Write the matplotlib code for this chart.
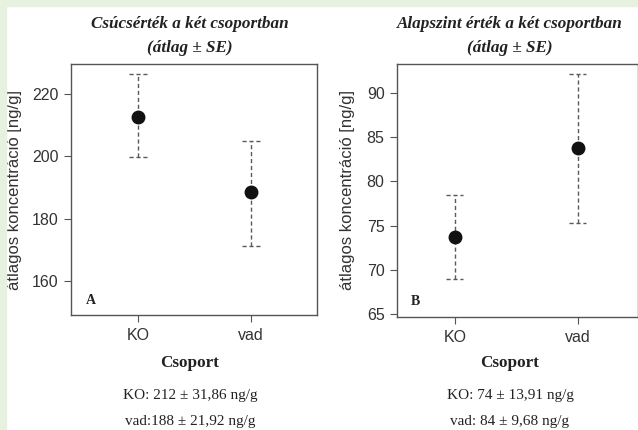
import matplotlib.pyplot as plt
from matplotlib.patches import Rectangle

groups = ['KO', 'vad']

# panel A: csúcsérték
peak_mean = [212.7, 188.6]
peak_upper = [226.4, 205.0]
peak_lower = [199.6, 171.2]

# panel B: alapszint
base_mean = [73.7, 83.8]
base_upper = [78.5, 92.2]
base_lower = [69.0, 75.3]

SERIF = ['Liberation Serif', 'DejaVu Serif']
SANS = ['Liberation Sans', 'DejaVu Sans']
GREEN = '#e6f2df'
DARK = '#333333'

fig = plt.figure(figsize=(6.38, 4.30), dpi=100)
fig.patch.set_facecolor('white')
# light green frame on the left and top
fig.patches.append(Rectangle((0, 0), 6 / 638, 1, transform=fig.transFigure,
                             color=GREEN, zorder=0))
fig.patches.append(Rectangle((0, 1 - 6 / 430), 1, 6 / 430, transform=fig.transFigure,
                             color=GREEN, zorder=0))


def panel(rect, mean, upper, lower, xlim, ylim, yticks, letter, cap, lpos):
    ax = fig.add_axes(rect)
    x = [1, 2]
    ax.vlines(x, lower, upper, colors='#5a5a5a', linestyles=(0, (3, 2)), lw=1.0)
    for xi, lo, hi in zip(x, lower, upper):
        ax.hlines([lo, hi], xi - cap, xi + cap, colors='#5a5a5a',
                  linestyles=(0, (3, 2)), lw=1.0)
    ax.plot(x, mean, 'o', color='#111111', ms=9, zorder=3)
    ax.set_xlim(*xlim)
    ax.set_ylim(*ylim)
    ax.set_xticks(x)
    ax.set_xticklabels(groups, fontfamily=SANS, fontsize=11.5, color=DARK)
    ax.set_yticks(yticks)
    ax.set_yticklabels([str(t) for t in yticks], fontfamily=SANS, fontsize=11.5,
                       color=DARK)
    ax.tick_params(length=5, width=0.8, color='#555555', pad=4)
    for s in ax.spines.values():
        s.set_color('#555555')
        s.set_linewidth(1.0)
    ax.set_ylabel('átlagos koncentráció [ng/g]', fontfamily=SANS, fontsize=12,
                  color=DARK)
    ax.text(lpos[0], lpos[1], letter, transform=ax.transAxes, fontfamily=SERIF,
            fontweight='bold', fontsize=10, color='#222222', ha='center', va='center')
    return ax


axA = panel([71 / 638, 1 - 315 / 430, 246 / 638, 251 / 430], peak_mean, peak_upper,
            peak_lower, (0.40, 2.59), (149.2, 229.5), [160, 180, 200, 220], 'A', 0.08,
            (0.081, 0.056))
axB = panel([397 / 638, 1 - 317 / 430, 241 / 638, 253 / 430], base_mean, base_upper,
            base_lower, (0.53, 2.49), (64.66, 93.3), [65, 70, 75, 80, 85, 90], 'B', 0.07,
            (0.075, 0.06))
axA.yaxis.set_label_coords(-0.199, 0.5)
axB.yaxis.set_label_coords(-0.174, 0.5)


def caption(xc, title, stats):
    fig.text(xc / 638, 1 - 24 / 430, title, fontfamily=SERIF, fontstyle='italic',
             fontweight='bold', fontsize=12.3, ha='center', va='center', color='#222222')
    fig.text(xc / 638, 1 - 48 / 430, '(átlag ± SE)', fontfamily=SERIF, fontstyle='italic',
             fontweight='bold', fontsize=12.3, ha='center', va='center', color='#222222')
    fig.text(xc / 638, 1 - 363 / 430, 'Csoport', fontfamily=SERIF, fontweight='bold',
             fontsize=12.3, ha='center', va='center', color='#222222')
    fig.text(xc / 638, 1 - 395 / 430, stats[0], fontfamily=SERIF, fontsize=11,
             ha='center', va='center', color='#222222')
    fig.text(xc / 638, 1 - 422 / 430, stats[1], fontfamily=SERIF, fontsize=11,
             ha='center', va='center', color='#222222')


caption(190, 'Csúcsérték a két csoportban',
        ['KO: 212 ± 31,86 ng/g', 'vad:188 ± 21,92 ng/g'])
caption(510, 'Alapszint érték a két csoportban',
        ['KO: 74 ± 13,91 ng/g', 'vad: 84 ± 9,68 ng/g'])

fig.savefig('out.png', dpi=100)
